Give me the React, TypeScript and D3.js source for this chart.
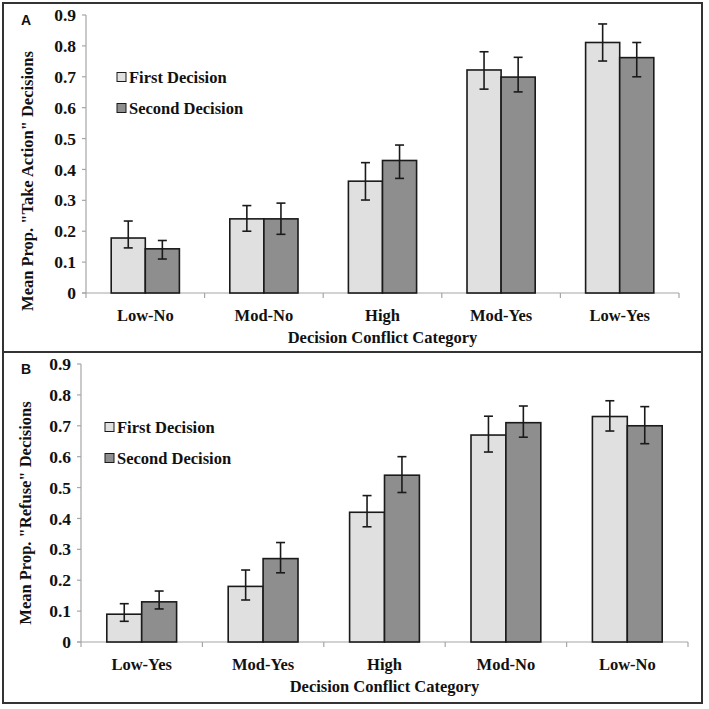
import * as d3 from "d3";
import React, { useEffect, useRef } from "react";

const W = 709;
const H = 709;

// panel A: "Take Action"
const catsA = ["Low-No", "Mod-No", "High", "Mod-Yes", "Low-Yes"];
const firstA = [0.178, 0.24, 0.362, 0.722, 0.811];
const firstAHi = [0.233, 0.283, 0.422, 0.781, 0.871];
const firstALo = [0.146, 0.2, 0.301, 0.66, 0.751];
const secondA = [0.143, 0.24, 0.429, 0.699, 0.762];
const secondAHi = [0.17, 0.291, 0.479, 0.763, 0.811];
const secondALo = [0.11, 0.19, 0.371, 0.651, 0.7];

// panel B: "Refuse"
const catsB = ["Low-Yes", "Mod-Yes", "High", "Mod-No", "Low-No"];
const firstB = [0.09, 0.18, 0.42, 0.67, 0.73];
const firstBHi = [0.124, 0.233, 0.474, 0.731, 0.781];
const firstBLo = [0.067, 0.136, 0.373, 0.615, 0.683];
const secondB = [0.13, 0.27, 0.54, 0.71, 0.7];
const secondBHi = [0.165, 0.322, 0.6, 0.764, 0.762];
const secondBLo = [0.107, 0.224, 0.484, 0.663, 0.642];

const seriesNames = ["First Decision", "Second Decision"];
const yTicks = [0, 0.1, 0.2, 0.3, 0.4, 0.5, 0.6, 0.7, 0.8, 0.9];

const fills = ["#e0e0e0", "#8e8e8e"];
const serif = "Liberation Serif, DejaVu Serif, serif";
const sans = "Liberation Sans, Arial, sans-serif";

type Panel = {
    tag: string;
    yLabel: string;
    cats: string[];
    vals: number[][];
    hi: number[][];
    lo: number[][];
    box: [number, number];
    x0: number;
    x1: number;
    yTop: number;
    yBot: number;
    legX: number;
    legY: number;
    labX: number;
    labY: number;
};

const panels: Panel[] = [
    {
        tag: "A",
        yLabel: 'Mean Prop. "Take Action" Decisions',
        cats: catsA,
        vals: [firstA, secondA],
        hi: [firstAHi, secondAHi],
        lo: [firstALo, secondALo],
        box: [3, 352],
        x0: 86,
        x1: 679,
        yTop: 15,
        yBot: 293,
        legX: 117,
        legY: 77,
        labX: 27,
        labY: 181,
    },
    {
        tag: "B",
        yLabel: 'Mean Prop. "Refuse" Decisions',
        cats: catsB,
        vals: [firstB, secondB],
        hi: [firstBHi, secondBHi],
        lo: [firstBLo, secondBLo],
        box: [352, 703],
        x0: 81,
        x1: 688,
        yTop: 364,
        yBot: 642,
        legX: 105,
        legY: 427,
        labX: 25,
        labY: 513,
    },
];

export default function App() {
    const svgRef = useRef<SVGSVGElement | null>(null);

    useEffect(() => {
        if (!svgRef.current) return;
        const svg = d3.select(svgRef.current);
        svg.selectAll("*").remove();

        svg.append("rect").attr("width", W).attr("height", H).attr("fill", "#fff");

        panels.forEach((p) => {
            const g = svg.append("g");

            // panel frame
            g.append("rect")
                .attr("x", 3)
                .attr("y", p.box[0])
                .attr("width", 699)
                .attr("height", p.box[1] - p.box[0])
                .attr("fill", "none")
                .attr("stroke", "#333")
                .attr("stroke-width", 2);

            const y = d3.scaleLinear().domain([0, 0.9]).range([p.yBot, p.yTop]);
            const x = d3.scaleBand<string>().domain(p.cats).range([p.x0, p.x1]);
            const pairW = x.bandwidth() * 0.575;
            const xs = d3
                .scaleBand<string>()
                .domain(seriesNames)
                .range([0, pairW]);

            const txt = (sel: d3.Selection<SVGTextElement, unknown, null, undefined>, size = 16.5) =>
                sel
                    .style("font-family", serif)
                    .style("font-weight", "bold")
                    .style("font-size", `${size}px`)
                    .attr("fill", "#111");

            // axes
            g.append("line")
                .attr("x1", p.x0)
                .attr("x2", p.x0)
                .attr("y1", p.yTop)
                .attr("y2", p.yBot)
                .attr("stroke", "#a6a6a6")
                .attr("stroke-width", 1.2);
            g.append("line")
                .attr("x1", p.x0 - 4)
                .attr("x2", p.x1)
                .attr("y1", p.yBot)
                .attr("y2", p.yBot)
                .attr("stroke", "#a6a6a6")
                .attr("stroke-width", 1.2);

            yTicks.forEach((t) => {
                g.append("line")
                    .attr("x1", p.x0 - 4)
                    .attr("x2", p.x0)
                    .attr("y1", y(t))
                    .attr("y2", y(t))
                    .attr("stroke", "#a6a6a6")
                    .attr("stroke-width", 1.2);
                g.append("text")
                    .attr("x", p.x0 - 10)
                    .attr("y", y(t))
                    .attr("dy", "0.35em")
                    .attr("text-anchor", "end")
                    .call(txt, 17.5)
                    .text(t === 0 ? "0" : d3.format(".1f")(t));
            });

            const xEdges = [...p.cats.map((c) => x(c)!), p.x1];
            xEdges.forEach((xe) => {
                g.append("line")
                    .attr("x1", xe)
                    .attr("x2", xe)
                    .attr("y1", p.yBot)
                    .attr("y2", p.yBot + 5)
                    .attr("stroke", "#a6a6a6")
                    .attr("stroke-width", 1.2);
            });

            p.cats.forEach((c) => {
                g.append("text")
                    .attr("x", x(c)! + x.bandwidth() / 2)
                    .attr("y", p.yBot + 28)
                    .attr("text-anchor", "middle")
                    .call(txt)
                    .text(c);
            });

            // bars + error bars
            seriesNames.forEach((s, si) => {
                p.cats.forEach((c, ci) => {
                    const bx = x(c)! + (x.bandwidth() - pairW) / 2 + xs(s)!;
                    const v = p.vals[si][ci];
                    g.append("rect")
                        .attr("x", bx)
                        .attr("y", y(v))
                        .attr("width", xs.bandwidth())
                        .attr("height", y(0) - y(v))
                        .attr("fill", fills[si])
                        .attr("stroke", "#1a1a1a")
                        .attr("stroke-width", 1.6);

                    const cx = bx + xs.bandwidth() / 2;
                    const yh = y(p.hi[si][ci]);
                    const yl = y(p.lo[si][ci]);
                    const cap = 4.5;
                    const eb = g.append("g").attr("stroke", "#1a1a1a").attr("stroke-width", 1.6);
                    eb.append("line").attr("x1", cx).attr("x2", cx).attr("y1", yh).attr("y2", yl);
                    eb.append("line").attr("x1", cx - cap).attr("x2", cx + cap).attr("y1", yh).attr("y2", yh);
                    eb.append("line").attr("x1", cx - cap).attr("x2", cx + cap).attr("y1", yl).attr("y2", yl);
                });
            });

            // legend
            seriesNames.forEach((s, si) => {
                const ly = p.legY + si * 31;
                g.append("rect")
                    .attr("x", p.legX)
                    .attr("y", ly - 4.5)
                    .attr("width", 9)
                    .attr("height", 9)
                    .attr("fill", fills[si])
                    .attr("stroke", "#1a1a1a")
                    .attr("stroke-width", 1);
                g.append("text")
                    .attr("x", p.legX + 12)
                    .attr("y", ly)
                    .attr("dy", "0.35em")
                    .call(txt)
                    .text(s);
            });

            // axis titles
            g.append("text")
                .attr("x", (p.x0 + p.x1) / 2)
                .attr("y", p.yBot + 50)
                .attr("text-anchor", "middle")
                .call(txt)
                .text("Decision Conflict Category");

            g.append("text")
                .attr("transform", `translate(${p.labX},${p.labY}) rotate(-90)`)
                .attr("dy", "0.35em")
                .attr("text-anchor", "middle")
                .call(txt)
                .text(p.yLabel);

            // panel tag
            g.append("text")
                .attr("x", 21)
                .attr("y", p.yTop + 10)
                .style("font-family", sans)
                .style("font-weight", "bold")
                .style("font-size", "14px")
                .attr("fill", "#111")
                .text(p.tag);
        });
    }, []);

    return (
        <div style={{ position: "absolute", left: 0, top: 0 }}>
            <svg ref={svgRef} width={W} height={H} viewBox={`0 0 ${W} ${H}`} style={{ display: "block" }} />
        </div>
    );
}
